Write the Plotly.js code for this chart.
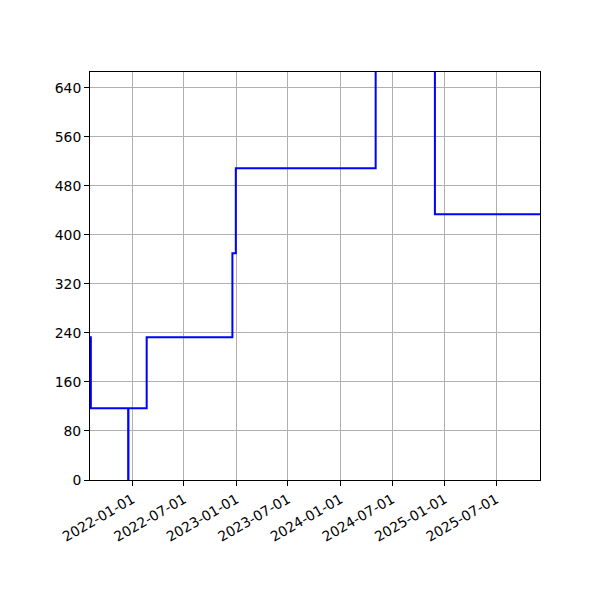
<!DOCTYPE html>
<html>
<head>
<meta charset="utf-8">
<script src="https://cdn.plot.ly/plotly-3.0.1.min.js"></script>
<style>
  html, body { margin: 0; padding: 0; background: white; }
  #plot { width: 600px; height: 600px; }
</style>
</head>
<body>
<div id="plot"></div>
<script>
// step series, values (the peak is clipped above the axis top)
var dates = ['2021-08-05', '2021-08-08', '2021-12-17', '2021-12-18', '2022-02-20',
             '2022-12-18', '2022-12-30', '2024-05-04', '2024-11-28', '2025-12-02'];
var values = [233, 117, 0, 117, 233, 370, 509, 1000, 434, 434];

var yTicks = [0, 80, 160, 240, 320, 400, 480, 560, 640];

var tickFont = { family: 'DejaVu Sans', size: 13.9, color: 'black' };

var trace = {
   x: dates,
   y: values,
   type: 'scatter',
   mode: 'lines',
   line: { shape: 'hv', color: 'blue', width: 2 },
   hoverinfo: 'x+y'
};

var layout = {
   width: 600,
   height: 600,
   margin: { l: 90, r: 60, t: 72, b: 120 },
   paper_bgcolor: 'white',
   plot_bgcolor: 'white',
   showlegend: false,
   xaxis: {
      type: 'date',
      range: ['2021-08-05', '2025-12-02'],
      tick0: '2022-01-01',
      dtick: 'M6',
      tickformat: '%Y-%m-%d',
      tickangle: -30,
      tickfont: tickFont,
      ticks: 'outside',
      ticklen: 5,
      tickwidth: 1,
      tickcolor: 'black',
      showline: true,
      linecolor: 'black',
      linewidth: 1,
      mirror: true,
      showgrid: true,
      gridcolor: '#b0b0b0',
      gridwidth: 1,
      zeroline: false
   },
   yaxis: {
      range: [0, 666],
      tickvals: yTicks,
      tickfont: tickFont,
      ticks: 'outside',
      ticklen: 5,
      tickwidth: 1,
      tickcolor: 'black',
      showline: true,
      linecolor: 'black',
      linewidth: 1,
      mirror: true,
      showgrid: true,
      gridcolor: '#b0b0b0',
      gridwidth: 1,
      zeroline: false
   }
};

Plotly.newPlot('plot', [trace], layout, { staticPlot: true });
</script>
</body>
</html>
